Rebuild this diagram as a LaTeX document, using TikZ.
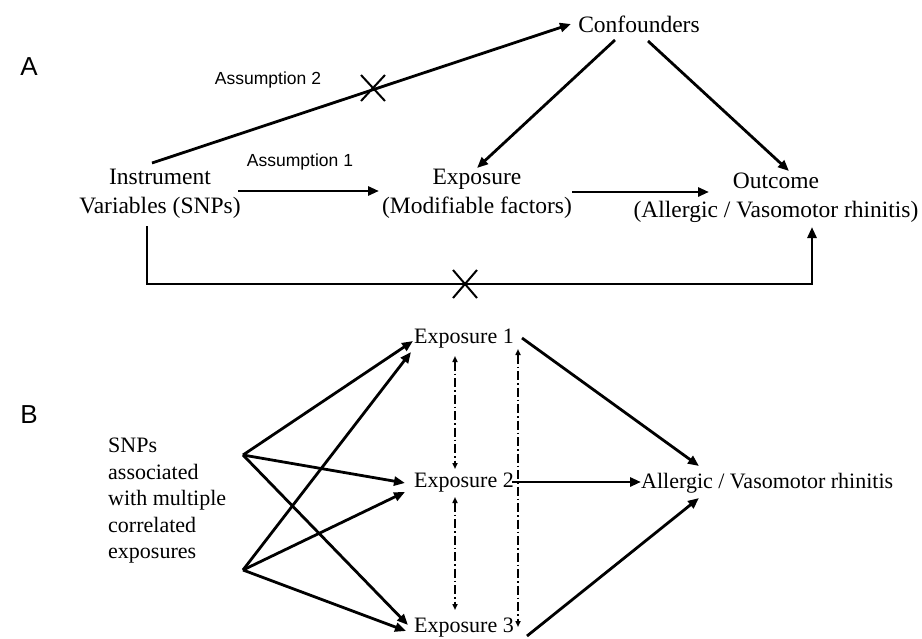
\documentclass[tikz,border=0pt]{standalone}
\usepackage{fontspec}
\setmainfont{Liberation Serif}
\newfontfamily\labsans{Liberation Sans}
\usetikzlibrary{arrows.meta,calc}
\tikzset{
  txtA/.style={font=\fontsize{23.5}{29}\selectfont, align=center, inner sep=0pt},
  txtB/.style={font=\fontsize{22}{26.5}\selectfont, inner sep=0pt},
  assum/.style={font=\labsans\fontsize{17.5}{19}\selectfont, inner sep=0pt},
  panel/.style={font=\labsans\fontsize{26}{28}\selectfont, inner sep=0pt},
  arr/.style={line width=2.8pt, -{Triangle[length=11pt,width=9pt]}},
  corr/.style={line width=1.5pt, dash pattern=on 9pt off 3pt on 1.5pt off 3pt,
     {Triangle[length=6pt,width=5pt]}-{Triangle[length=6pt,width=5pt]}},
  xmark/.style={line width=2pt}
}
\begin{document}
\begin{tikzpicture}[x=1pt,y=-1pt]
\useasboundingbox (0,0) rectangle (922,638);
% ---------- Panel A ----------
\node[panel] (pA) at (29,67) {A};
\node[txtA] (ins) at (160,194) {Instrument\\Variables (SNPs)};
\node[txtA] (exp) at (477,194) {Exposure\\(Modifiable factors)};
\node[txtA] (out) at (776,198) {Outcome\\(Allergic / Vasomotor rhinitis)};
\node[txtA] (conf) at (639,24) {Confounders};
\node[assum] (as2) at (268,80) {Assumption 2};
\node[assum] (as1) at (300,162) {Assumption 1};

\coordinate (insTop) at (152,163);
\coordinate (confIn) at (571,24);
\coordinate (insR) at (238,191);
\coordinate (expL) at (379,191);
\coordinate (expR) at (572,192);
\coordinate (outL) at (709,192);
\coordinate (confBL) at (615,40);
\coordinate (expTop) at (477,168);
\coordinate (confBR) at (648,41);
\coordinate (outTop) at (789,171);
\coordinate (insBot) at (147,226);
\coordinate (corner1) at (147,284);
\coordinate (corner2) at (812,284);
\coordinate (outBot) at (812,227);
\coordinate (x1) at (373,88);
\coordinate (x2) at (465,284);

\draw[arr] (insTop) -- (confIn);
\draw[arr] (insR) -- (expL);
\draw[arr] (expR) -- (outL);
\draw[arr] (confBL) -- (expTop);
\draw[arr] (confBR) -- (outTop);
\draw[arr] (insBot) -- (corner1) -- (corner2) -- (outBot);
\draw[xmark] ($(x1)+(-12,-13)$) -- ($(x1)+(12,13)$);
\draw[xmark] ($(x1)+(12,-13)$) -- ($(x1)+(-12,13)$);
\draw[xmark] ($(x2)+(-12,-14)$) -- ($(x2)+(12,14)$);
\draw[xmark] ($(x2)+(12,-14)$) -- ($(x2)+(-12,14)$);

% ---------- Panel B ----------
\node[panel] (pB) at (29,415) {B};
\node[txtB, align=left, anchor=west] (snps) at (108,501) {SNPs\\associated\\with multiple\\correlated\\exposures};
\node[txtB, anchor=west] (e1) at (414,339) {Exposure 1};
\node[txtB, anchor=west] (e2) at (414,483) {Exposure 2};
\node[txtB, anchor=west] (e3) at (414,628) {Exposure 3};
\node[txtB, anchor=west] (ar) at (641,483) {Allergic / Vasomotor rhinitis};

\coordinate (s1) at (243,455);
\coordinate (s2) at (243,570);
\coordinate (e1a) at (413,341);
\coordinate (e1b) at (411,352);
\coordinate (e2a) at (405,483);
\coordinate (e2b) at (405,492);
\coordinate (e3a) at (408,625);
\coordinate (e3b) at (406,631);
\draw[arr] (s1) -- (e1a);
\draw[arr] (s1) -- (e2a);
\draw[arr] (s1) -- (e3a);
\draw[arr] (s2) -- (e1b);
\draw[arr] (s2) -- (e2b);
\draw[arr] (s2) -- (e3b);

\coordinate (c1t) at (455,356);
\coordinate (c1b) at (455,469);
\coordinate (c2t) at (455,497);
\coordinate (c2b) at (455,610);
\coordinate (c3t) at (518,349);
\coordinate (c3b) at (518,627);
\draw[corr] (c1t) -- (c1b);
\draw[corr] (c2t) -- (c2b);
\draw[corr] (c3t) -- (c3b);

\coordinate (e1r) at (522,338);
\coordinate (e2r) at (512,482);
\coordinate (e3r) at (527,636);
\coordinate (arTop) at (699,466);
\coordinate (arL) at (641,482);
\coordinate (arBot) at (699,498);
\draw[arr] (e1r) -- (arTop);
\draw[arr] (e2r) -- (arL);
\draw[arr] (e3r) -- (arBot);
\end{tikzpicture}
\end{document}
